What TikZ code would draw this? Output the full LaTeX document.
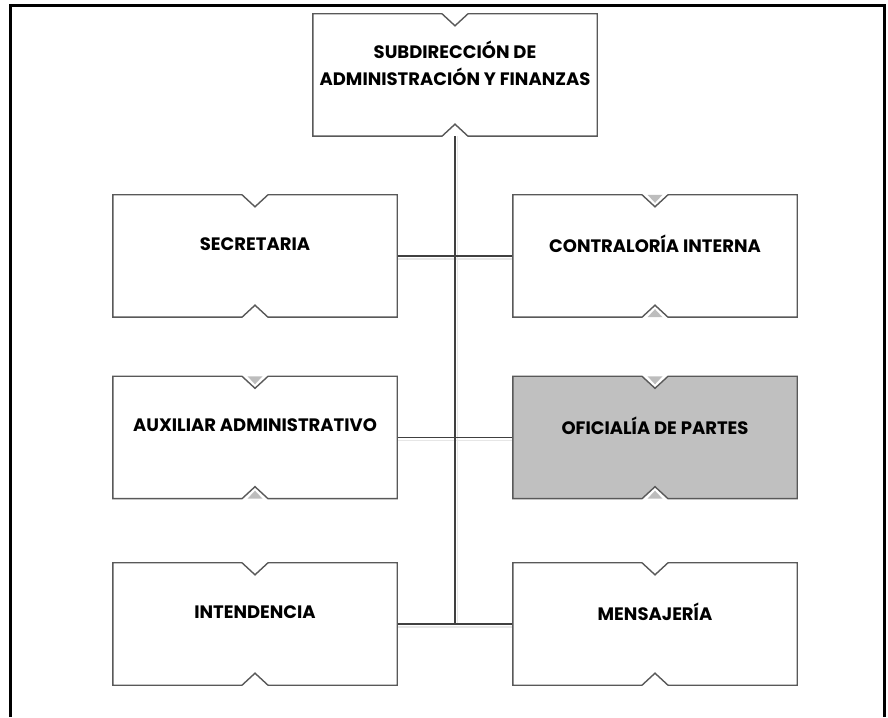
\documentclass[tikz,border=0pt]{standalone}
\usepackage{fontspec}
\setmainfont{Poppins}
\usetikzlibrary{calc}

\definecolor{edgegray}{HTML}{595959}
\definecolor{wiregray}{HTML}{404040}
\definecolor{shadegray}{HTML}{E6E6E6}
\definecolor{markgray}{HTML}{BDBDBD}
\definecolor{pickgray}{HTML}{C0C0C0}

% Notched outline of an org box: a V cut at the top centre, an inverted V at the bottom centre
\newcommand\orgoutline[2]{%
  \path[outline,fill=#2] (#1.north west) -- ([xshift=-13pt]#1.north) -- ([yshift=-12pt]#1.north)
    -- ([xshift=13pt]#1.north) -- (#1.north east) -- (#1.south east)
    -- ([xshift=13pt]#1.south) -- ([yshift=12pt]#1.south) -- ([xshift=-13pt]#1.south)
    -- (#1.south west) -- cycle;}
% Small grey triangles sitting in the notches (expand/collapse markers)
\newcommand\orgmarks[1]{%
  \fill[markgray] ([xshift=-7.5pt]#1.north) -- ([xshift=7.5pt]#1.north) -- ([yshift=-8pt]#1.north) -- cycle;
  \fill[markgray] ([xshift=-7.5pt]#1.south) -- ([xshift=7.5pt]#1.south) -- ([yshift=8pt]#1.south) -- cycle;}

\begin{document}
\begin{tikzpicture}[x=1pt,y=1pt,
  slot/.style={minimum width=284pt,minimum height=122pt,inner sep=0pt,draw=none},
  caption/.style={font=\fontsize{18}{27}\selectfont\bfseries,align=center,inner sep=0pt,text=black},
  outline/.style={draw=edgegray,line width=1.4pt,line join=miter},
  wire/.style={draw=wiregray,line width=1.3pt},
  wireshade/.style={draw=shadegray,line width=1.6pt},
]
\useasboundingbox (0,0) rectangle (888,717);
\fill[white] (0,0) rectangle (888,717);

% page frame, open at the bottom
\draw[line width=3pt,line join=miter] (10,0) -- (10,711) -- (884,711) -- (884,0);

% box positions
\node[slot] (sub) at (455,642) {};
\node[slot] (sec) at (255,461) {};
\node[slot] (con) at (655,461) {};
\node[slot] (aux) at (255,279.5) {};
\node[slot] (ofi) at (655,279.5) {};
\node[slot] (int) at (255,93) {};
\node[slot] (men) at (655,93) {};

\coordinate (trunkend) at (sub.south |- int.east);

% connector shadows
\draw[wireshade] ([xshift=2.5pt]sub.south) -- ([xshift=2.5pt]trunkend);
\foreach \l/\r in {sec/con,aux/ofi,int/men}{
  \draw[wireshade] ([yshift=-3pt]\l.east) -- ([yshift=-3pt]\r.west);
}

% connectors
\draw[wire] (sub.south) -- (trunkend);
\foreach \l/\r in {sec/con,aux/ofi,int/men}{
  \draw[wire] (\l.east) -- (\l.east -| sub.south);
  \draw[wire] (\r.west -| sub.south) -- (\r.west);
}

% boxes
\orgoutline{sub}{white}
\orgoutline{sec}{white}
\orgoutline{con}{white}
\orgoutline{aux}{white}
\orgoutline{ofi}{pickgray}
\orgoutline{int}{white}
\orgoutline{men}{white}
\orgmarks{con}
\orgmarks{aux}
\orgmarks{ofi}

% captions
\node[caption] (subtxt) at ($(sub.center)+(0,12)$) {SUBDIRECCIÓN DE\\ADMINISTRACIÓN Y FINANZAS};
\node[caption] (sectxt) at ($(sec.center)+(0,12)$) {SECRETARIA};
\node[caption] (contxt) at ($(con.center)+(0,12)$) {CONTRALORÍA INTERNA};
\node[caption] (auxtxt) at ($(aux.center)+(0,12)$) {AUXILIAR ADMINISTRATIVO};
\node[caption] (ofitxt) at ($(ofi.center)+(0,12)$) {OFICIALÍA DE PARTES};
\node[caption] (inttxt) at ($(int.center)+(0,12)$) {INTENDENCIA};
\node[caption] (mentxt) at ($(men.center)+(0,12)$) {MENSAJERÍA};
\end{tikzpicture}
\end{document}
